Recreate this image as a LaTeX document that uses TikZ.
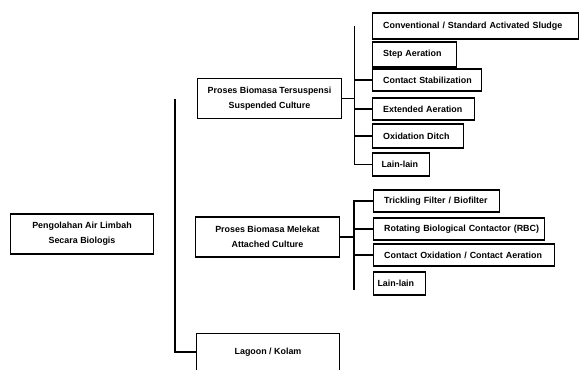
\documentclass[tikz,border=0pt]{standalone}
\usepackage{fontspec}
\setmainfont{Liberation Sans}
\usepackage{tikz}
\usetikzlibrary{positioning}

\begin{document}
\begin{tikzpicture}[
  x=0.03cm, y=-0.03cm,
  line width=0.9pt,
  leftpad/.store in=\itempad,
  mainbox/.style={rectangle, draw, minimum width=4.3cm, minimum height=1.2cm, align=center,
    font=\fontsize{7.6}{12.5}\selectfont\bfseries},
  item/.style={rectangle, draw, anchor=west, inner xsep=0pt, inner ysep=0pt, align=left,
    text width=#1, minimum height=0.7cm, font=\fontsize{7.6}{9}\selectfont\bfseries,
    leftpad=0.32cm, execute at begin node={\hspace*{\itempad}}},
  link/.style={line width=0.9pt}
]
  \useasboundingbox (0,0) rectangle (579,370);

  % left side
  \node[mainbox] (root) at (82,234) {Pengolahan Air Limbah\\Secara Biologis};
  \node[mainbox] (sus) at (269.5,98.5) {Proses Biomasa Tersuspensi\\Suspended Culture};
  \node[mainbox] (att) at (267.5,237) {Proses Biomasa Melekat\\Attached Culture};
  \node[mainbox, minimum height=1.11cm] (lag) at (268,352) {Lagoon / Kolam};

  % suspended culture
  \node[item=6.18cm, minimum height=0.78cm] (conv) at (372,26) {Conventional / Standard Activated Sludge};
  \node[item=2.52cm, minimum height=0.75cm] (step) at (372,54.5) {Step Aeration};
  \node[item=3.27cm, minimum height=0.66cm] (cstab) at (372,80) {Contact Stabilization};
  \node[item=3.06cm, minimum height=0.66cm] (ext) at (372,109) {Extended Aeration};
  \node[item=2.73cm, minimum height=0.72cm] (oxd) at (372,136) {Oxidation Ditch};
  \node[item=1.71cm, minimum height=0.69cm, leftpad=0.27cm] (lainA) at (372,164.5) {Lain-lain};

  % attached culture
  \node[item=3.78cm, minimum height=0.66cm] (trick) at (373,201) {Trickling Filter / Biofilter};
  \node[item=5.13cm, minimum height=0.66cm] (rbc) at (373,229) {Rotating Biological Contactor (RBC)};
  \node[item=5.43cm, minimum height=0.66cm] (cox) at (373,255) {Contact Oxidation / Contact Aeration};
  \node[item=1.56cm, minimum height=0.69cm, leftpad=0.12cm] (lainB) at (373,283.5) {Lain-lain};

  % buses
  \coordinate (busM) at (175,99);
  \coordinate (busA) at (354.5,26);
  \coordinate (busB) at (354,290);

  \draw[link] (busM) |- (lag.west);

  \draw[link] (sus.east) -- (sus.east -| busA);
  \draw[link] (busA) -- (busA |- lainA.west) -- (lainA.west);
  \draw[link] (busA |- cstab.west) -- (cstab.west);
  \draw[link] (busA |- ext.west) -- (ext.west);
  \draw[link] (busA |- oxd.west) -- (oxd.west);

  \draw[link] (att.east) -- (att.east -| busB);
  \draw[link] (trick.west) -- (trick.west -| busB) -- (busB);
  \draw[link] (busB |- rbc.west) -- (rbc.west);
  \draw[link] (busB |- cox.west) -- (cox.west);
\end{tikzpicture}
\end{document}
